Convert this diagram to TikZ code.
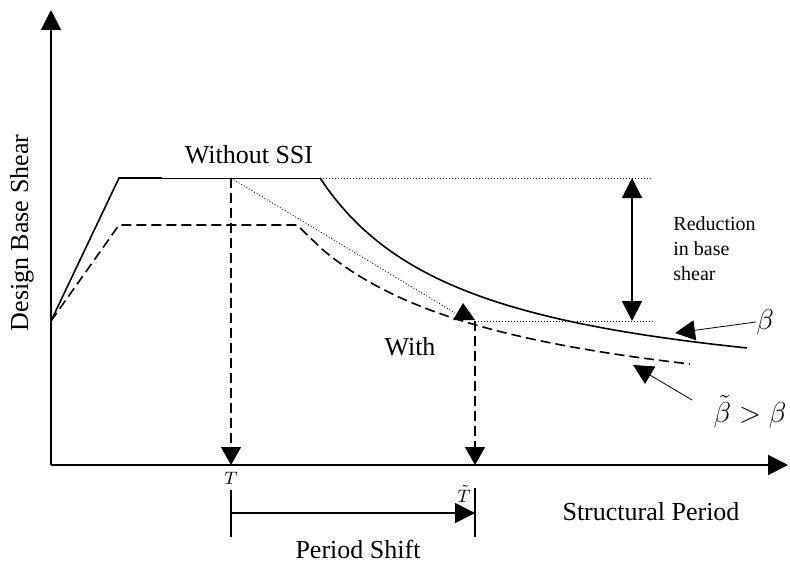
\documentclass[tikz,border=0pt]{standalone}
\usepackage{fontspec}
\setmainfont{Liberation Serif}
\usepackage{tikz}
\usetikzlibrary{arrows.meta}

\begin{document}
\begin{tikzpicture}[x=0.5pt,y=-0.5pt,
  axisline/.style={line width=1pt, -{Triangle[length=10pt,width=10pt]}},
  solidcurve/.style={line width=0.8pt},
  dashcurve/.style={line width=0.8pt, dash pattern=on 5pt off 2.5pt},
  guideline/.style={line width=0.4pt, dash pattern=on 0.5pt off 1pt},
  droparrow/.style={line width=0.8pt, dash pattern=on 5pt off 2.5pt, -{Triangle[length=9pt,width=10pt]}},
  pointer/.style={line width=0.4pt, -{Triangle[length=10pt,width=10pt]}},
  biglabel/.style={font=\fontsize{13}{15}\selectfont, inner sep=0pt},
  greeklabel/.style={font=\fontsize{15}{17}\selectfont, inner sep=0pt},
  smalllabel/.style={font=\fontsize{10}{12.5}\selectfont, inner sep=0pt, align=left},
  ticklabel/.style={font=\fontsize{9.5}{11}\selectfont, inner sep=0pt}
]
\useasboundingbox (0,0) rectangle (790,561);

% axes
\coordinate (O) at (51,465);
\coordinate (ytop) at (51,10);
\coordinate (xend) at (788,465);
\draw[axisline] (O) -- (ytop);
\draw[axisline] (O) -- (xend);

% key points
\coordinate (S0) at (51,321);
\coordinate (S1) at (119,178);
\coordinate (S2) at (162,178);
\coordinate (S3) at (320,178);
\coordinate (D1) at (119,225);
\coordinate (D2) at (297,225);
\coordinate (D3) at (323,250);
\coordinate (T) at (231,178);
\coordinate (Tax) at (231,465);
\coordinate (Tt) at (475,321);
\coordinate (Ttax) at (475,465);

% spectrum without SSI
\draw[solidcurve] (S0) -- (S1) -- (S2);
\draw[line width=0.4pt] (S2) -- (S3);
\draw[solidcurve] plot[domain=320:747, samples=60] (\x, {408.3 - 349.19*(100/(\x-168.4))});

% spectrum with SSI
\draw[dashcurve] (S0) -- (D1) -- (D2) -- (D3)
  -- plot[domain=323:690, samples=60] (\x, {431.3 - 392.69*(100/(\x-106.4))});

% dotted guides
\coordinate (Wtip) at (455,313);
\draw[guideline] (T) -- (Wtip);
\fill (463,303) -- (453,320) -- (475,320) -- cycle;
\draw[guideline] (S3) -- (652,178);
\draw[guideline] (Tt) -- (653,321);

% reduction in base shear
\coordinate (Rtop) at (632,178);
\coordinate (Rbot) at (632,321);
\draw[line width=1pt, {Triangle[length=10pt,width=10pt]}-{Triangle[length=10pt,width=10pt]}] (Rtop) -- (Rbot);
\node[smalllabel, anchor=base west] (red) at (673,280) {Reduction\\in base\\shear};

% period drops
\draw[droparrow] (T) -- (Tax);
\draw[droparrow] (Tt) -- (Ttax);
\node[ticklabel] (tT) at (231,478) {$T$};
\node[ticklabel] (tTt) at (464,494) {$\tilde{T}$};

% period shift
\coordinate (Pa) at (231,490);
\coordinate (Pb) at (231,537);
\coordinate (Pc) at (475,488);
\coordinate (Pd) at (475,537);
\coordinate (Pl) at (231,513);
\coordinate (Pr) at (475,513);
\draw[line width=0.8pt] (Pa) -- (Pb);
\draw[line width=0.8pt] (Pc) -- (Pd);
\draw[line width=0.8pt, -{Triangle[length=10pt,width=10pt]}] (Pl) -- (Pr);

% damping pointers
\node[greeklabel] (b) at (765,322) {$\beta$};
\node[greeklabel, font=\fontsize{14}{16}\selectfont] (bt) at (750,412) {$\tilde{\beta} > \beta$};
\coordinate (bhead) at (675,333);
\coordinate (btail) at (692,400);
\coordinate (bthead) at (633,365);
\draw[pointer] (b.west) -- (bhead);
\draw[pointer] (btail) -- (bthead);

% labels
\node[biglabel, rotate=90] (ylab) at (22,233) {Design Base Shear};
\node[biglabel, anchor=base] (wo) at (249,163) {Without SSI};
\node[biglabel, anchor=base] (w) at (410,355) {With};
\node[biglabel, anchor=base] (xlab) at (651,520) {Structural Period};
\node[biglabel, anchor=base] (ps) at (358,558) {Period Shift};
\end{tikzpicture}
\end{document}
